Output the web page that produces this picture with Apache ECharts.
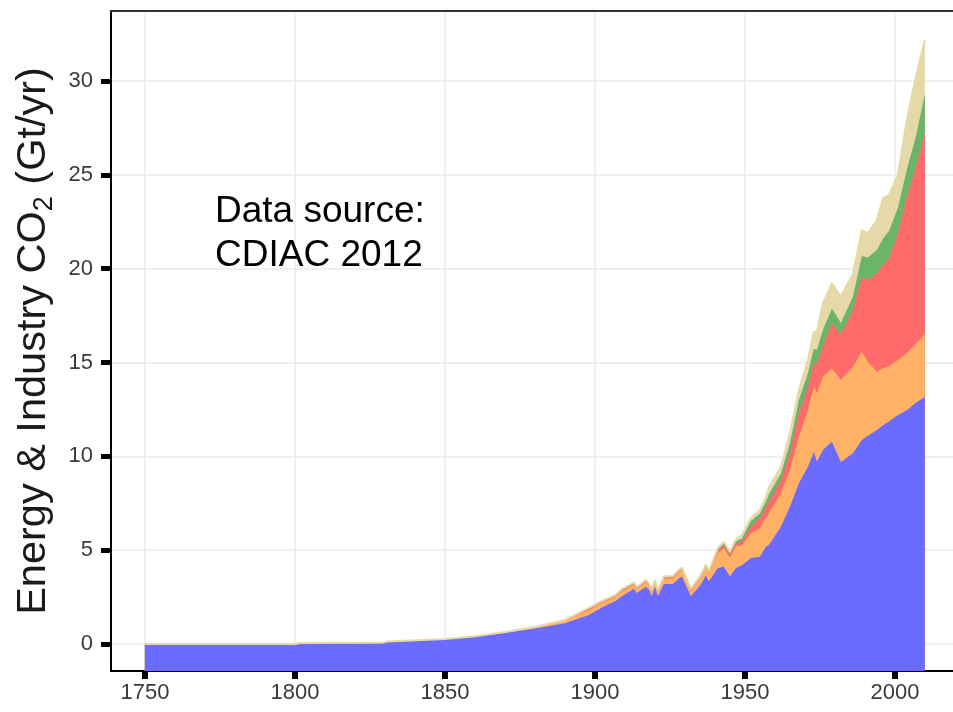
<!DOCTYPE html>
<html>
<head>
<meta charset="utf-8">
<script src="https://cdn.jsdelivr.net/npm/echarts@6/dist/echarts.min.js"></script>
<style>
  html, body { margin: 0; padding: 0; background: #ffffff; }
  #chart { width: 953px; height: 712px; }
</style>
</head>
<body>
<div id="chart"></div>
<script>
// Years at which the stacked emission bands are sampled
const years = [1750, 1800, 1802, 1829, 1831, 1850, 1860, 1870, 1880, 1890,
  1898, 1902, 1907, 1909, 1913, 1914, 1917, 1918, 1919, 1920,
  1921, 1923, 1926, 1928, 1929, 1932, 1935, 1937, 1938, 1941,
  1943, 1945, 1947, 1949, 1952, 1955, 1957, 1958, 1962, 1965,
  1968, 1971, 1973, 1974, 1976, 1979, 1982, 1986, 1989, 1991,
  1994, 1996, 1998, 2001, 2004, 2007, 2010];

// Band thickness per year, Gt CO2 / yr (stacked bottom to top)
const layerBlue = [0, 0, 0.05, 0.06, 0.13, 0.25, 0.38, 0.58, 0.82, 1.1,
  1.55, 1.92, 2.3, 2.55, 2.95, 2.72, 3.05, 2.9, 2.55, 3.05,
  2.55, 3.2, 3.2, 3.5, 3.6, 2.55, 3.1, 3.65, 3.35, 4.05,
  4.12, 3.59, 4.05, 4.2, 4.58, 4.65, 5.18, 5.27, 6.25, 7.31,
  8.56, 9.45, 10.25, 9.71, 10.34, 10.78, 9.7, 10.16, 10.87, 11.1,
  11.4, 11.65, 11.85, 12.2, 12.45, 12.85, 13.18];

const layerOrange = [0, 0, 0, 0, 0, 0.02, 0.03, 0.05, 0.08, 0.15,
  0.25, 0.25, 0.22, 0.25, 0.22, 0.22, 0.25, 0.24, 0.25, 0.25,
  0.24, 0.28, 0.3, 0.32, 0.35, 0.28, 0.38, 0.45, 0.42, 0.8,
  1.0, 1.0, 1.15, 1.06, 1.32, 1.51, 1.55, 1.69, 1.78, 1.96,
  2.48, 3.02, 3.46, 3.65, 3.9, 3.92, 4.37, 4.61, 4.7, 3.94,
  3.11, 3.05, 2.95, 2.93, 3.05, 3.15, 3.32];

const layerRed = [0, 0, 0, 0, 0, 0, 0, 0.01, 0.01, 0.02,
  0.05, 0.05, 0.05, 0.06, 0.06, 0.05, 0.06, 0.05, 0.05, 0.06,
  0.05, 0.06, 0.06, 0.06, 0.06, 0.05, 0.06, 0.06, 0.06, 0.12,
  0.15, 0.15, 0.17, 0.22, 0.35, 0.54, 0.55, 0.62, 0.71, 0.89,
  1.25, 1.24, 1.24, 1.59, 1.6, 2.39, 2.43, 3.02, 4.0, 4.35,
  5.24, 5.5, 5.75, 6.75, 8.33, 9.43, 10.75];

const layerGreen = [0, 0, 0, 0, 0, 0, 0, 0, 0, 0.01,
  0.04, 0.03, 0.03, 0.04, 0.03, 0.03, 0.03, 0.03, 0.03, 0.03,
  0.03, 0.03, 0.03, 0.04, 0.04, 0.03, 0.03, 0.04, 0.03, 0.08,
  0.1, 0.1, 0.11, 0.14, 0.3, 0.26, 0.3, 0.4, 0.35, 0.53,
  0.71, 0.71, 0.8, 0.71, 0.89, 0.79, 0.6, 0.71, 1.1, 1.2,
  1.25, 1.4, 1.45, 1.35, 1.47, 1.6, 2.09];

const layerTan = [0, 0, 0, 0, 0, 0, 0, 0, 0, 0,
  0.04, 0.02, 0.02, 0.03, 0.02, 0.02, 0.03, 0.02, 0.02, 0.02,
  0.02, 0.03, 0.03, 0.03, 0.03, 0.03, 0.03, 0.03, 0.03, 0.06,
  0.08, 0.08, 0.09, 0.18, 0.17, 0.18, 0.25, 0.35, 0.36, 0.54,
  0.53, 0.71, 0.89, 0.98, 1.42, 1.34, 1.4, 1.25, 1.39, 1.29,
  1.59, 2.14, 1.92, 1.76, 2.62, 3.19, 2.86];

// Tick positions
const xTicks = [1750, 1800, 1850, 1900, 1950, 2000];
const yTicks = [0, 5, 10, 15, 20, 25, 30];

const FONT = 'Liberation Sans, Arial, Helvetica, sans-serif';
const X_MIN = 1738.7;
const X_MAX = 2019.37;

// Bands from bottom to top; only the outermost band gets an outline
const bands = [
  { values: layerBlue,   color: '#6b6bff', line: 0 },
  { values: layerOrange, color: '#ffb266', line: 0 },
  { values: layerRed,    color: '#ff6b6b', line: 0 },
  { values: layerGreen,  color: '#6bb56b', line: 0 },
  { values: layerTan,    color: '#e6d9a8', line: 2 }
];

// Running totals: each band is filled from zero up to its cumulative top;
// the upper bands are painted first so the lower ones sit in front.
const running = years.map(function () { return 0; });
const cumulative = bands.map(function (b) {
  return b.values.map(function (v, i) {
    running[i] += v;
    return +running[i].toFixed(3);
  });
});

const series = bands.map(function (b, k) {
  return {
    type: 'line',
    symbol: 'none',
    xAxisIndex: 0,
    data: years.map(function (y, i) { return [y, cumulative[k][i]]; }),
    lineStyle: { width: b.line, color: b.color },
    itemStyle: { color: b.color },
    areaStyle: { color: b.color, opacity: 1, origin: 'start' }
  };
}).reverse();

const chart = echarts.init(document.getElementById('chart'), null, { renderer: 'canvas' });

const option = {
  animation: false,
  backgroundColor: '#ffffff',
  grid: { left: 111, right: 0, top: 11, bottom: 41 },
  xAxis: [
    {
      type: 'value',
      min: X_MIN,
      max: X_MAX,
      axisLine: { show: true, onZero: false, lineStyle: { color: '#000000', width: 2 } },
      axisTick: { show: true, customValues: xTicks, length: 8, lineStyle: { color: '#000000', width: 6 } },
      axisLabel: {
        customValues: xTicks, color: '#3a3a3a', fontSize: 22, margin: 11, fontFamily: FONT,
        formatter: function (v) { return String(v); }
      },
      splitLine: { show: true, lineStyle: { color: '#ebebeb', width: 1.5 } }
    },
    {
      // panel frame along the top edge
      type: 'value',
      position: 'top',
      min: X_MIN,
      max: X_MAX,
      axisLine: { show: true, onZero: false, lineStyle: { color: '#333333', width: 2 } },
      axisTick: { show: false },
      axisLabel: { show: false },
      splitLine: { show: false }
    }
  ],
  yAxis: {
    type: 'value',
    min: -1.439,
    max: 33.73,
    axisLine: { show: true, onZero: false, lineStyle: { color: '#000000', width: 2 } },
    axisTick: { show: true, customValues: yTicks, length: 10, lineStyle: { color: '#000000', width: 5 } },
    axisLabel: { customValues: yTicks, color: '#3a3a3a', fontSize: 22, margin: 18, fontFamily: FONT },
    splitLine: { show: true, lineStyle: { color: '#ebebeb', width: 1.5 } },
    name: '{a|Energy & Industry CO}{s|2}{a| (Gt/yr)}',
    nameLocation: 'middle',
    nameRotate: 90,
    nameGap: 50,
    nameTextStyle: {
      rich: {
        a: { fontSize: 41.5, fontFamily: FONT, color: '#1a1a1a', lineHeight: 48, verticalAlign: 'middle' },
        s: { fontSize: 27, fontFamily: FONT, color: '#1a1a1a', lineHeight: 27, verticalAlign: 'bottom' }
      }
    }
  },
  graphic: [
    {
      type: 'text',
      style: {
        text: 'Data source:\nCDIAC 2012',
        x: 215, y: 189.5,
        fill: '#000000',
        font: '37px ' + FONT,
        lineHeight: 44,
        verticalAlign: 'top',
        align: 'left'
      },
      z: 100
    },
    {
      type: 'text',
      style: {
        text: '(a)',
        x: 537, y: -22,
        fill: '#000000',
        font: '44px ' + FONT,
        verticalAlign: 'middle',
        align: 'center'
      },
      z: 100
    }
  ],
  series: series
};

chart.setOption(option);
</script>
</body>
</html>
